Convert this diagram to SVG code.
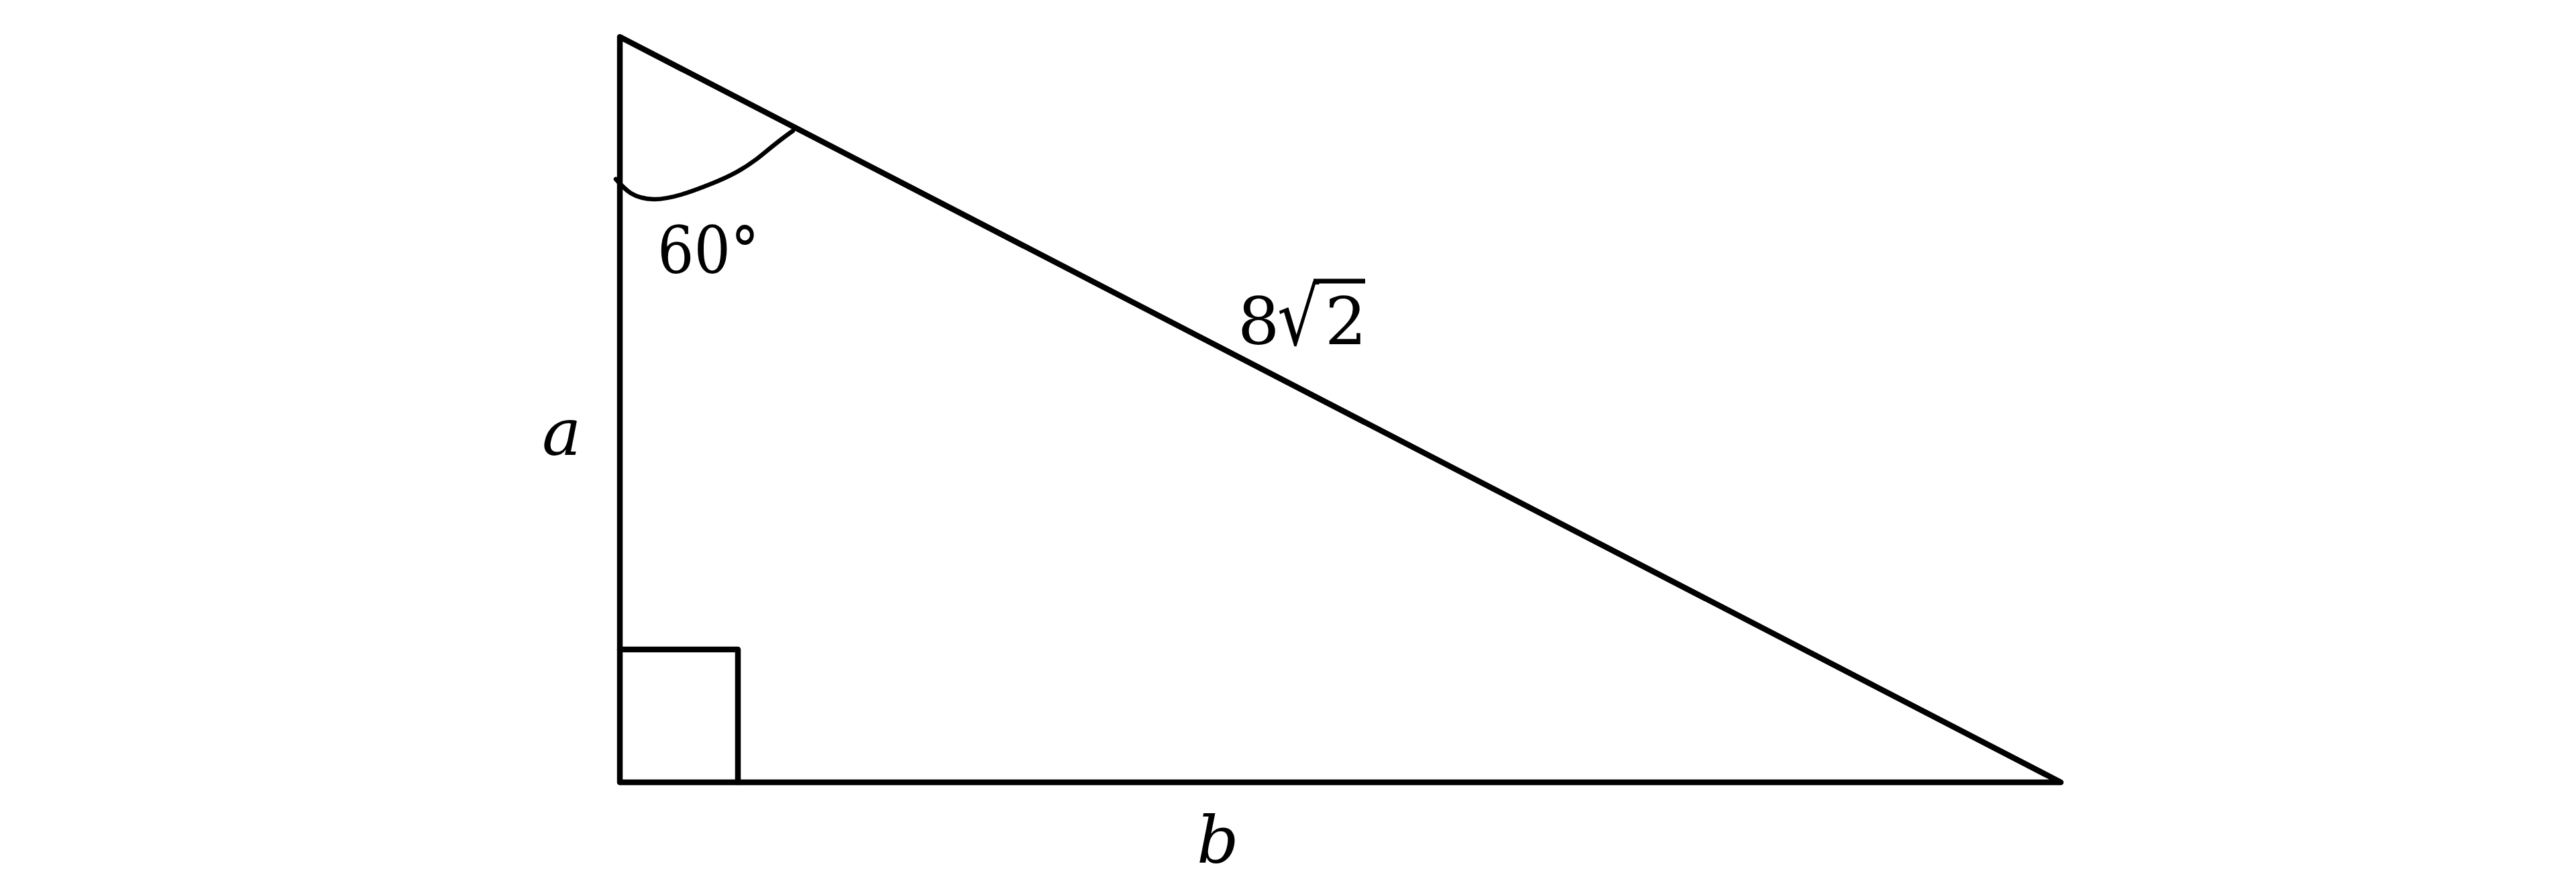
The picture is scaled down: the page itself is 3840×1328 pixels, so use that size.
<svg xmlns="http://www.w3.org/2000/svg" width="3840" height="1328" viewBox="0 0 3840 1328">
<style>
.edge{fill:none;stroke:#000;stroke-width:8.5;stroke-linecap:round;stroke-linejoin:round}
.thin{fill:none;stroke:#000;stroke-width:6.5;stroke-linecap:round;stroke-linejoin:round}
.lbl{font-family:"DejaVu Serif","Liberation Serif",serif;font-size:98px;fill:#000}
.it{font-style:italic}
</style>
<rect width="3840" height="1328" fill="#fff"/>
<g id="triangle">
<path class="edge" d="M924,55 L924,1166 L3072,1166 Z"/>
</g>
<g id="right-angle">
<path class="edge" d="M924,968 L1100,968 L1100,1166"/>
</g>
<g id="angle-arc">
<path class="thin" d="M918,267 C933,284 944,296 975,297 C1000,297 1030,286 1060,274 C1090,262 1108,252 1128,237 C1148,221 1163,208 1182,195"/>
</g>
<g id="label-angle">
<text class="lbl" x="980" y="407" textLength="152" lengthAdjust="spacingAndGlyphs">60°</text>
</g>
<g id="label-a">
<text class="lbl it" x="808" y="678">a</text>
</g>
<g id="label-b">
<text class="lbl it" x="1784" y="1286">b</text>
</g>
<g id="label-hyp">
<text class="lbl" x="1845" y="513">8</text>
<text class="lbl" transform="translate(1904,514) scale(1,1.2)" x="0" y="0">√</text>
<text class="lbl" x="1975" y="513">2</text>
<line x1="1958" y1="419" x2="2035" y2="419" stroke="#000" stroke-width="7"/>
</g>
</svg>
